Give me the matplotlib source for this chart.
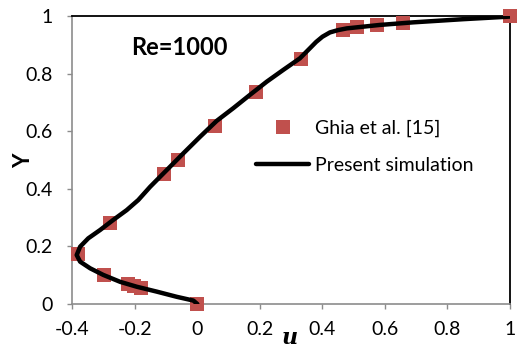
import numpy as np
import matplotlib.pyplot as plt

# Ghia et al. reference data (u along vertical centreline, Re=1000)
ghia_u = [1.0, 0.65928, 0.57492, 0.51117, 0.46604, 0.33304, 0.18719, 0.05702,
          -0.06080, -0.10648, -0.27805, -0.38289, -0.29730, -0.22220, -0.20196,
          -0.18109, 0.0]
ghia_y = [1.0, 0.9766, 0.9688, 0.9609, 0.9531, 0.8516, 0.7344, 0.6172,
          0.5000, 0.4531, 0.2813, 0.1719, 0.1016, 0.0703, 0.0625, 0.0547, 0.0]

# present simulation
sim_u = [0.0, -0.013, -0.066, -0.130, -0.194, -0.247, -0.301, -0.343, -0.375,
         -0.386, -0.375, -0.349, -0.311, -0.269, -0.226, -0.189, -0.151,
         -0.098, -0.045, 0.009, 0.062, 0.115, 0.168, 0.222, 0.275, 0.328,
         0.360, 0.380, 0.400, 0.424, 0.450, 0.478, 0.584, 0.691, 0.851, 1.0]
sim_y = [0.0, 0.012, 0.025, 0.043, 0.060, 0.077, 0.101, 0.124, 0.147,
         0.170, 0.199, 0.228, 0.257, 0.292, 0.326, 0.361, 0.407,
         0.465, 0.523, 0.581, 0.636, 0.680, 0.726, 0.772, 0.813, 0.853,
         0.888, 0.910, 0.928, 0.943, 0.951, 0.957, 0.969, 0.978, 0.989, 0.998]

plt.rcParams['font.family'] = ['Lato', 'DejaVu Sans']

fig = plt.figure(figsize=(5.17, 3.48), dpi=100)
ax = fig.add_axes([72.3 / 517, 1 - 304 / 348, 437.7 / 517, 288 / 348])

ax.plot(ghia_u, ghia_y, linestyle='none', marker='s', markersize=9.4,
        color='#c0504d', markeredgewidth=0, label='Ghia et al. [15]',
        clip_on=False, zorder=3)
ax.plot(sim_u, sim_y, color='black', linewidth=3.2, solid_capstyle='round',
        solid_joinstyle='round', label='Present simulation', zorder=4)

ax.set_xlim(-0.4, 1.0)
ax.set_ylim(0, 1.0)
ax.set_xticks([-0.4, -0.2, 0, 0.2, 0.4, 0.6, 0.8, 1])
ax.set_xticklabels(['-0.4', '-0.2', '0', '0.2', '0.4', '0.6', '0.8', '1'])
ax.set_yticks([0, 0.2, 0.4, 0.6, 0.8, 1])
ax.set_yticklabels(['0', '0.2', '0.4', '0.6', '0.8', '1'])
ax.tick_params(direction='out', length=3.6, width=1, colors='#8c8c8c',
               labelcolor='black', labelsize=14)
ax.tick_params(axis='y', pad=10.5)
ax.tick_params(axis='x', pad=8.5)

for s in ['left', 'bottom']:
    ax.spines[s].set_color('#8c8c8c')
    ax.spines[s].set_linewidth(1.2)
for s in ['top', 'right']:
    ax.spines[s].set_color('black')
    ax.spines[s].set_linewidth(1.3)

fig.text(290 / 517, 1 - 338 / 348, 'u', fontsize=16, fontweight='bold',
         fontstyle='italic', family='DejaVu Serif', ha='center', va='center')
fig.text(23.5 / 517, 1 - 161 / 348, 'Y', fontsize=16, fontweight='bold',
         rotation=90, ha='center', va='center')

ax.text(-0.059, 0.889, 'Re=1000', fontsize=17,
        fontweight='bold', ha='center', va='center')

ax.legend(loc='center left', bbox_to_anchor=(0.42, 0.545), frameon=False,
          fontsize=14, handlelength=2.73, handletextpad=0.3, labelspacing=1.0,
          borderpad=0, borderaxespad=0)

fig.savefig('out.png', dpi=100)
